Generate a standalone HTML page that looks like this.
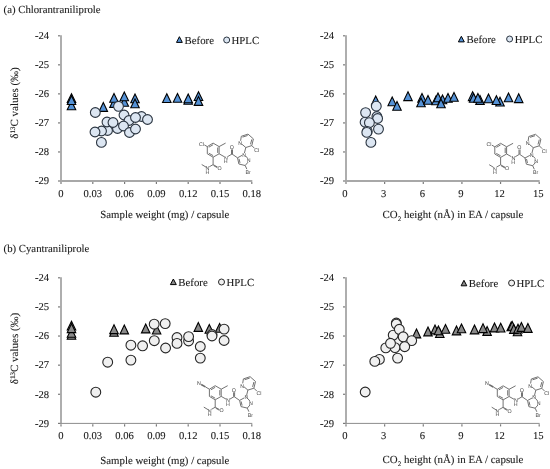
<!DOCTYPE html>
<html><head><meta charset="utf-8"><style>
html,body{margin:0;padding:0;background:#fff;}
svg{display:block;}
text{font-family:"Liberation Serif",serif;fill:#1a1a1a;stroke:#1a1a1a;stroke-width:0.1px;}
text.m{font-family:"Liberation Sans",sans-serif;fill:#444;stroke:#fff;stroke-width:0.6px;paint-order:stroke;}
svg{will-change:transform;}
text{text-rendering:geometricPrecision;}
</style></head><body>
<svg width="550" height="469" viewBox="0 0 550 469">
<rect width="550" height="469" fill="#fff"/>
<text x="3.6" y="13.2" text-anchor="start" font-size="10.75" >(a) Chlorantraniliprole</text>
<text x="3.6" y="252" text-anchor="start" font-size="10.75" >(b) Cyantraniliprole</text>
<path d="M61.0 35.3V181" fill="none" stroke="#aaaaaa" stroke-width="1.9"/>
<path d="M60.0 181H252.3" fill="none" stroke="#a8a8a8" stroke-width="1.8"/>
<path d="M58.0 35.80H60.1" stroke="#7a7a7a" stroke-width="1.2"/>
<text x="49.0" y="39.10" text-anchor="end" font-size="10.6" >-24</text>
<path d="M58.0 64.84H60.1" stroke="#7a7a7a" stroke-width="1.2"/>
<text x="49.0" y="68.14" text-anchor="end" font-size="10.6" >-25</text>
<path d="M58.0 93.88H60.1" stroke="#7a7a7a" stroke-width="1.2"/>
<text x="49.0" y="97.18" text-anchor="end" font-size="10.6" >-26</text>
<path d="M58.0 122.92H60.1" stroke="#7a7a7a" stroke-width="1.2"/>
<text x="49.0" y="126.22" text-anchor="end" font-size="10.6" >-27</text>
<path d="M58.0 151.96H60.1" stroke="#7a7a7a" stroke-width="1.2"/>
<text x="49.0" y="155.26" text-anchor="end" font-size="10.6" >-28</text>
<path d="M58.0 181.00H60.1" stroke="#7a7a7a" stroke-width="1.2"/>
<text x="49.0" y="184.30" text-anchor="end" font-size="10.6" >-29</text>
<path d="M61.00 181.9V184" stroke="#7a7a7a" stroke-width="1.2"/>
<text x="61.00" y="196.50" text-anchor="middle" font-size="10.6" >0</text>
<path d="M92.80 181.9V184" stroke="#7a7a7a" stroke-width="1.2"/>
<text x="92.80" y="196.50" text-anchor="middle" font-size="10.6" >0.03</text>
<path d="M124.60 181.9V184" stroke="#7a7a7a" stroke-width="1.2"/>
<text x="124.60" y="196.50" text-anchor="middle" font-size="10.6" >0.06</text>
<path d="M156.40 181.9V184" stroke="#7a7a7a" stroke-width="1.2"/>
<text x="156.40" y="196.50" text-anchor="middle" font-size="10.6" >0.09</text>
<path d="M188.20 181.9V184" stroke="#7a7a7a" stroke-width="1.2"/>
<text x="188.20" y="196.50" text-anchor="middle" font-size="10.6" >0.12</text>
<path d="M220.00 181.9V184" stroke="#7a7a7a" stroke-width="1.2"/>
<text x="220.00" y="196.50" text-anchor="middle" font-size="10.6" >0.15</text>
<path d="M251.80 181.9V184" stroke="#7a7a7a" stroke-width="1.2"/>
<text x="251.80" y="196.50" text-anchor="middle" font-size="10.6" >0.18</text>
<path d="M346.0 35.3V181" fill="none" stroke="#aaaaaa" stroke-width="1.9"/>
<path d="M345.0 181H539.7" fill="none" stroke="#a8a8a8" stroke-width="1.8"/>
<path d="M343.0 35.80H345.1" stroke="#7a7a7a" stroke-width="1.2"/>
<text x="334.0" y="39.10" text-anchor="end" font-size="10.6" >-24</text>
<path d="M343.0 64.84H345.1" stroke="#7a7a7a" stroke-width="1.2"/>
<text x="334.0" y="68.14" text-anchor="end" font-size="10.6" >-25</text>
<path d="M343.0 93.88H345.1" stroke="#7a7a7a" stroke-width="1.2"/>
<text x="334.0" y="97.18" text-anchor="end" font-size="10.6" >-26</text>
<path d="M343.0 122.92H345.1" stroke="#7a7a7a" stroke-width="1.2"/>
<text x="334.0" y="126.22" text-anchor="end" font-size="10.6" >-27</text>
<path d="M343.0 151.96H345.1" stroke="#7a7a7a" stroke-width="1.2"/>
<text x="334.0" y="155.26" text-anchor="end" font-size="10.6" >-28</text>
<path d="M343.0 181.00H345.1" stroke="#7a7a7a" stroke-width="1.2"/>
<text x="334.0" y="184.30" text-anchor="end" font-size="10.6" >-29</text>
<path d="M346.00 181.9V184" stroke="#7a7a7a" stroke-width="1.2"/>
<text x="345.00" y="196.50" text-anchor="middle" font-size="10.6" >0</text>
<path d="M384.64 181.9V184" stroke="#7a7a7a" stroke-width="1.2"/>
<text x="383.64" y="196.50" text-anchor="middle" font-size="10.6" >3</text>
<path d="M423.28 181.9V184" stroke="#7a7a7a" stroke-width="1.2"/>
<text x="422.28" y="196.50" text-anchor="middle" font-size="10.6" >6</text>
<path d="M461.92 181.9V184" stroke="#7a7a7a" stroke-width="1.2"/>
<text x="460.92" y="196.50" text-anchor="middle" font-size="10.6" >9</text>
<path d="M500.56 181.9V184" stroke="#7a7a7a" stroke-width="1.2"/>
<text x="499.56" y="196.50" text-anchor="middle" font-size="10.6" >12</text>
<path d="M539.20 181.9V184" stroke="#7a7a7a" stroke-width="1.2"/>
<text x="538.20" y="196.50" text-anchor="middle" font-size="10.6" >15</text>
<path d="M61.0 277.3V423.4" fill="none" stroke="#aaaaaa" stroke-width="1.9"/>
<path d="M60.0 423.4H252.3" fill="none" stroke="#8c8c8c" stroke-width="1.0"/>
<path d="M58.0 277.80H60.1" stroke="#7a7a7a" stroke-width="1.2"/>
<text x="49.0" y="281.10" text-anchor="end" font-size="10.6" >-24</text>
<path d="M58.0 306.92H60.1" stroke="#7a7a7a" stroke-width="1.2"/>
<text x="49.0" y="310.22" text-anchor="end" font-size="10.6" >-25</text>
<path d="M58.0 336.04H60.1" stroke="#7a7a7a" stroke-width="1.2"/>
<text x="49.0" y="339.34" text-anchor="end" font-size="10.6" >-26</text>
<path d="M58.0 365.16H60.1" stroke="#7a7a7a" stroke-width="1.2"/>
<text x="49.0" y="368.46" text-anchor="end" font-size="10.6" >-27</text>
<path d="M58.0 394.28H60.1" stroke="#7a7a7a" stroke-width="1.2"/>
<text x="49.0" y="397.58" text-anchor="end" font-size="10.6" >-28</text>
<path d="M58.0 423.40H60.1" stroke="#7a7a7a" stroke-width="1.2"/>
<text x="49.0" y="426.70" text-anchor="end" font-size="10.6" >-29</text>
<path d="M61.00 424.29999999999995V426.4" stroke="#7a7a7a" stroke-width="1.2"/>
<text x="61.00" y="438.90" text-anchor="middle" font-size="10.6" >0</text>
<path d="M92.80 424.29999999999995V426.4" stroke="#7a7a7a" stroke-width="1.2"/>
<text x="92.80" y="438.90" text-anchor="middle" font-size="10.6" >0.03</text>
<path d="M124.60 424.29999999999995V426.4" stroke="#7a7a7a" stroke-width="1.2"/>
<text x="124.60" y="438.90" text-anchor="middle" font-size="10.6" >0.06</text>
<path d="M156.40 424.29999999999995V426.4" stroke="#7a7a7a" stroke-width="1.2"/>
<text x="156.40" y="438.90" text-anchor="middle" font-size="10.6" >0.09</text>
<path d="M188.20 424.29999999999995V426.4" stroke="#7a7a7a" stroke-width="1.2"/>
<text x="188.20" y="438.90" text-anchor="middle" font-size="10.6" >0.12</text>
<path d="M220.00 424.29999999999995V426.4" stroke="#7a7a7a" stroke-width="1.2"/>
<text x="220.00" y="438.90" text-anchor="middle" font-size="10.6" >0.15</text>
<path d="M251.80 424.29999999999995V426.4" stroke="#7a7a7a" stroke-width="1.2"/>
<text x="251.80" y="438.90" text-anchor="middle" font-size="10.6" >0.18</text>
<path d="M346.0 277.3V423.4" fill="none" stroke="#aaaaaa" stroke-width="1.9"/>
<path d="M345.0 423.4H539.7" fill="none" stroke="#8c8c8c" stroke-width="1.0"/>
<path d="M343.0 277.80H345.1" stroke="#7a7a7a" stroke-width="1.2"/>
<text x="334.0" y="281.10" text-anchor="end" font-size="10.6" >-24</text>
<path d="M343.0 306.92H345.1" stroke="#7a7a7a" stroke-width="1.2"/>
<text x="334.0" y="310.22" text-anchor="end" font-size="10.6" >-25</text>
<path d="M343.0 336.04H345.1" stroke="#7a7a7a" stroke-width="1.2"/>
<text x="334.0" y="339.34" text-anchor="end" font-size="10.6" >-26</text>
<path d="M343.0 365.16H345.1" stroke="#7a7a7a" stroke-width="1.2"/>
<text x="334.0" y="368.46" text-anchor="end" font-size="10.6" >-27</text>
<path d="M343.0 394.28H345.1" stroke="#7a7a7a" stroke-width="1.2"/>
<text x="334.0" y="397.58" text-anchor="end" font-size="10.6" >-28</text>
<path d="M343.0 423.40H345.1" stroke="#7a7a7a" stroke-width="1.2"/>
<text x="334.0" y="426.70" text-anchor="end" font-size="10.6" >-29</text>
<path d="M346.00 424.29999999999995V426.4" stroke="#7a7a7a" stroke-width="1.2"/>
<text x="345.00" y="438.90" text-anchor="middle" font-size="10.6" >0</text>
<path d="M384.64 424.29999999999995V426.4" stroke="#7a7a7a" stroke-width="1.2"/>
<text x="383.64" y="438.90" text-anchor="middle" font-size="10.6" >3</text>
<path d="M423.28 424.29999999999995V426.4" stroke="#7a7a7a" stroke-width="1.2"/>
<text x="422.28" y="438.90" text-anchor="middle" font-size="10.6" >6</text>
<path d="M461.92 424.29999999999995V426.4" stroke="#7a7a7a" stroke-width="1.2"/>
<text x="460.92" y="438.90" text-anchor="middle" font-size="10.6" >9</text>
<path d="M500.56 424.29999999999995V426.4" stroke="#7a7a7a" stroke-width="1.2"/>
<text x="499.56" y="438.90" text-anchor="middle" font-size="10.6" >12</text>
<path d="M539.20 424.29999999999995V426.4" stroke="#7a7a7a" stroke-width="1.2"/>
<text x="538.20" y="438.90" text-anchor="middle" font-size="10.6" >15</text>
<text x="100.3" y="218" text-anchor="start" font-size="10.8" >Sample weight (mg) / capsule</text>
<text x="100.3" y="463.5" text-anchor="start" font-size="10.8" >Sample weight (mg) / capsule</text>
<text x="382.6" y="218" text-anchor="start" font-size="10.9" >CO<tspan font-size="7" dy="2.5">2</tspan><tspan dy="-2.5"> height (nÅ) in EA / capsule</tspan></text>
<text x="382.6" y="463.4" text-anchor="start" font-size="10.9" >CO<tspan font-size="7" dy="2.5">2</tspan><tspan dy="-2.5"> height (nÅ) in EA / capsule</tspan></text>
<text x="0" y="0" text-anchor="middle" font-size="11" transform="translate(18.2 103) rotate(-90)">δ<tspan font-size="7" dy="-3.5">13</tspan><tspan dy="3.5">C values (‰)</tspan></text>
<text x="0" y="0" text-anchor="middle" font-size="11" transform="translate(18.2 348.5) rotate(-90)">δ<tspan font-size="7" dy="-3.5">13</tspan><tspan dy="3.5">C values (‰)</tspan></text>
<path d="M179.40 36.70L182.30 42.40H176.50Z" fill="#5592d6" stroke="#000" stroke-width="1"/>
<text x="184.6" y="43.9" text-anchor="start" font-size="10.8" >Before</text>
<circle cx="226.70" cy="40.00" r="3" fill="#dce6f2" stroke="#2a3440" stroke-width="1"/>
<text x="231.5" y="43.9" text-anchor="start" font-size="10.8" >HPLC</text>
<path d="M461.35 36.30L464.30 41.90H458.40Z" fill="#5592d6" stroke="#000" stroke-width="1"/>
<text x="466.5" y="43.3" text-anchor="start" font-size="10.8" >Before</text>
<circle cx="509.60" cy="39.00" r="3" fill="#dce6f2" stroke="#2a3440" stroke-width="1"/>
<text x="514.8000000000001" y="43.3" text-anchor="start" font-size="10.8" >HPLC</text>
<path d="M173.35 279.00L176.30 284.60H170.40Z" fill="#8a8a8a" stroke="#000" stroke-width="1"/>
<text x="178.3" y="286.0" text-anchor="start" font-size="10.8" >Before</text>
<circle cx="221.50" cy="282.00" r="3" fill="#f0f0f0" stroke="#262626" stroke-width="1"/>
<text x="226.5" y="286.0" text-anchor="start" font-size="10.8" >HPLC</text>
<path d="M463.95 280.30L466.80 285.80H461.10Z" fill="#8a8a8a" stroke="#000" stroke-width="1"/>
<text x="468.8" y="287.0" text-anchor="start" font-size="10.8" >Before</text>
<circle cx="511.60" cy="283.00" r="3" fill="#f0f0f0" stroke="#262626" stroke-width="1"/>
<text x="516.5" y="287.0" text-anchor="start" font-size="10.8" >HPLC</text>
<path d="M71.50 100.90L75.75 109.70H67.25Z" fill="#5592d6" stroke="#000" stroke-width="1.1"/>
<path d="M71.50 93.65L75.75 102.45H67.25Z" fill="#5592d6" stroke="#000" stroke-width="1.1"/>
<path d="M71.50 95.70L75.75 104.50H67.25Z" fill="#5592d6" stroke="#000" stroke-width="1.1"/>
<path d="M103.30 102.60L107.55 111.40H99.05Z" fill="#5592d6" stroke="#000" stroke-width="1.1"/>
<path d="M114.00 98.60L118.25 107.40H109.75Z" fill="#5592d6" stroke="#000" stroke-width="1.1"/>
<path d="M114.00 93.40L118.25 102.20H109.75Z" fill="#5592d6" stroke="#000" stroke-width="1.1"/>
<path d="M124.30 97.40L128.55 106.20H120.05Z" fill="#5592d6" stroke="#000" stroke-width="1.1"/>
<path d="M124.30 91.90L128.55 100.70H120.05Z" fill="#5592d6" stroke="#000" stroke-width="1.1"/>
<path d="M135.00 94.00L139.25 102.80H130.75Z" fill="#5592d6" stroke="#000" stroke-width="1.1"/>
<path d="M135.00 98.90L139.25 107.70H130.75Z" fill="#5592d6" stroke="#000" stroke-width="1.1"/>
<path d="M166.80 93.70L171.05 102.50H162.55Z" fill="#5592d6" stroke="#000" stroke-width="1.1"/>
<path d="M177.50 93.40L181.75 102.20H173.25Z" fill="#5592d6" stroke="#000" stroke-width="1.1"/>
<path d="M188.20 95.40L192.45 104.20H183.95Z" fill="#5592d6" stroke="#000" stroke-width="1.1"/>
<path d="M188.20 94.00L192.45 102.80H183.95Z" fill="#5592d6" stroke="#000" stroke-width="1.1"/>
<path d="M198.50 91.70L202.75 100.50H194.25Z" fill="#5592d6" stroke="#000" stroke-width="1.1"/>
<path d="M198.50 96.60L202.75 105.40H194.25Z" fill="#5592d6" stroke="#000" stroke-width="1.1"/>
<circle cx="107.50" cy="130.50" r="4.9" fill="#dce6f2" stroke="#2a3440" stroke-width="1.1"/>
<circle cx="117.50" cy="128.50" r="4.9" fill="#dce6f2" stroke="#2a3440" stroke-width="1.1"/>
<circle cx="101.50" cy="131.00" r="4.9" fill="#dce6f2" stroke="#2a3440" stroke-width="1.1"/>
<circle cx="95.00" cy="132.00" r="4.9" fill="#dce6f2" stroke="#2a3440" stroke-width="1.1"/>
<circle cx="101.40" cy="142.40" r="4.9" fill="#dce6f2" stroke="#2a3440" stroke-width="1.1"/>
<circle cx="95.30" cy="112.50" r="4.9" fill="#dce6f2" stroke="#2a3440" stroke-width="1.1"/>
<circle cx="107.00" cy="122.00" r="4.9" fill="#dce6f2" stroke="#2a3440" stroke-width="1.1"/>
<circle cx="113.00" cy="122.50" r="4.9" fill="#dce6f2" stroke="#2a3440" stroke-width="1.1"/>
<circle cx="118.50" cy="106.30" r="4.9" fill="#dce6f2" stroke="#2a3440" stroke-width="1.1"/>
<circle cx="124.00" cy="115.00" r="4.9" fill="#dce6f2" stroke="#2a3440" stroke-width="1.1"/>
<circle cx="129.00" cy="120.50" r="4.9" fill="#dce6f2" stroke="#2a3440" stroke-width="1.1"/>
<circle cx="123.50" cy="126.00" r="4.9" fill="#dce6f2" stroke="#2a3440" stroke-width="1.1"/>
<circle cx="141.50" cy="116.50" r="4.9" fill="#dce6f2" stroke="#2a3440" stroke-width="1.1"/>
<circle cx="135.50" cy="117.50" r="4.9" fill="#dce6f2" stroke="#2a3440" stroke-width="1.1"/>
<circle cx="147.50" cy="119.50" r="4.9" fill="#dce6f2" stroke="#2a3440" stroke-width="1.1"/>
<circle cx="129.50" cy="132.50" r="4.9" fill="#dce6f2" stroke="#2a3440" stroke-width="1.1"/>
<circle cx="135.50" cy="129.00" r="4.9" fill="#dce6f2" stroke="#2a3440" stroke-width="1.1"/>
<path d="M375.70 95.90L379.95 104.70H371.45Z" fill="#5592d6" stroke="#000" stroke-width="1.1"/>
<path d="M392.20 96.90L396.45 105.70H387.95Z" fill="#5592d6" stroke="#000" stroke-width="1.1"/>
<path d="M397.00 101.40L401.25 110.20H392.75Z" fill="#5592d6" stroke="#000" stroke-width="1.1"/>
<path d="M408.00 91.80L412.25 100.60H403.75Z" fill="#5592d6" stroke="#000" stroke-width="1.1"/>
<path d="M422.00 93.40L426.25 102.20H417.75Z" fill="#5592d6" stroke="#000" stroke-width="1.1"/>
<path d="M421.00 97.90L425.25 106.70H416.75Z" fill="#5592d6" stroke="#000" stroke-width="1.1"/>
<path d="M428.00 95.40L432.25 104.20H423.75Z" fill="#5592d6" stroke="#000" stroke-width="1.1"/>
<path d="M436.00 95.90L440.25 104.70H431.75Z" fill="#5592d6" stroke="#000" stroke-width="1.1"/>
<path d="M438.00 92.90L442.25 101.70H433.75Z" fill="#5592d6" stroke="#000" stroke-width="1.1"/>
<path d="M442.50 94.90L446.75 103.70H438.25Z" fill="#5592d6" stroke="#000" stroke-width="1.1"/>
<path d="M441.00 98.90L445.25 107.70H436.75Z" fill="#5592d6" stroke="#000" stroke-width="1.1"/>
<path d="M448.00 93.40L452.25 102.20H443.75Z" fill="#5592d6" stroke="#000" stroke-width="1.1"/>
<path d="M454.00 92.40L458.25 101.20H449.75Z" fill="#5592d6" stroke="#000" stroke-width="1.1"/>
<path d="M472.60 91.80L476.85 100.60H468.35Z" fill="#5592d6" stroke="#000" stroke-width="1.1"/>
<path d="M473.60 93.40L477.85 102.20H469.35Z" fill="#5592d6" stroke="#000" stroke-width="1.1"/>
<path d="M480.00 95.60L484.25 104.40H475.75Z" fill="#5592d6" stroke="#000" stroke-width="1.1"/>
<path d="M477.90 93.40L482.15 102.20H473.65Z" fill="#5592d6" stroke="#000" stroke-width="1.1"/>
<path d="M488.50 93.90L492.75 102.70H484.25Z" fill="#5592d6" stroke="#000" stroke-width="1.1"/>
<path d="M500.00 97.20L504.25 106.00H495.75Z" fill="#5592d6" stroke="#000" stroke-width="1.1"/>
<path d="M496.40 95.70L500.65 104.50H492.15Z" fill="#5592d6" stroke="#000" stroke-width="1.1"/>
<path d="M508.50 93.00L512.75 101.80H504.25Z" fill="#5592d6" stroke="#000" stroke-width="1.1"/>
<path d="M518.70 93.80L522.95 102.60H514.45Z" fill="#5592d6" stroke="#000" stroke-width="1.1"/>
<circle cx="376.30" cy="106.20" r="4.9" fill="#dce6f2" stroke="#2a3440" stroke-width="1.1"/>
<circle cx="365.60" cy="112.60" r="4.9" fill="#dce6f2" stroke="#2a3440" stroke-width="1.1"/>
<circle cx="376.90" cy="116.50" r="4.9" fill="#dce6f2" stroke="#2a3440" stroke-width="1.1"/>
<circle cx="377.60" cy="118.50" r="4.9" fill="#dce6f2" stroke="#2a3440" stroke-width="1.1"/>
<circle cx="365.10" cy="122.20" r="4.9" fill="#dce6f2" stroke="#2a3440" stroke-width="1.1"/>
<circle cx="369.40" cy="122.70" r="4.9" fill="#dce6f2" stroke="#2a3440" stroke-width="1.1"/>
<circle cx="378.50" cy="129.10" r="4.9" fill="#dce6f2" stroke="#2a3440" stroke-width="1.1"/>
<circle cx="367.30" cy="131.40" r="4.9" fill="#dce6f2" stroke="#2a3440" stroke-width="1.1"/>
<circle cx="366.80" cy="132.40" r="4.9" fill="#dce6f2" stroke="#2a3440" stroke-width="1.1"/>
<circle cx="370.90" cy="142.40" r="4.9" fill="#dce6f2" stroke="#2a3440" stroke-width="1.1"/>
<path d="M71.50 330.50L75.75 339.30H67.25Z" fill="#8a8a8a" stroke="#000" stroke-width="1.1"/>
<path d="M71.50 328.50L75.75 337.30H67.25Z" fill="#8a8a8a" stroke="#000" stroke-width="1.1"/>
<path d="M71.50 321.20L75.75 330.00H67.25Z" fill="#8a8a8a" stroke="#000" stroke-width="1.1"/>
<path d="M71.50 323.80L75.75 332.60H67.25Z" fill="#8a8a8a" stroke="#000" stroke-width="1.1"/>
<path d="M114.00 327.40L118.25 336.20H109.75Z" fill="#8a8a8a" stroke="#000" stroke-width="1.1"/>
<path d="M114.00 324.80L118.25 333.60H109.75Z" fill="#8a8a8a" stroke="#000" stroke-width="1.1"/>
<path d="M124.30 325.10L128.55 333.90H120.05Z" fill="#8a8a8a" stroke="#000" stroke-width="1.1"/>
<path d="M145.70 324.10L149.95 332.90H141.45Z" fill="#8a8a8a" stroke="#000" stroke-width="1.1"/>
<path d="M156.60 325.20L160.85 334.00H152.35Z" fill="#8a8a8a" stroke="#000" stroke-width="1.1"/>
<path d="M198.30 322.60L202.55 331.40H194.05Z" fill="#8a8a8a" stroke="#000" stroke-width="1.1"/>
<path d="M209.30 324.40L213.55 333.20H205.05Z" fill="#8a8a8a" stroke="#000" stroke-width="1.1"/>
<path d="M219.60 323.40L223.85 332.20H215.35Z" fill="#8a8a8a" stroke="#000" stroke-width="1.1"/>
<circle cx="95.80" cy="392.20" r="4.9" fill="#f0f0f0" stroke="#262626" stroke-width="1.1"/>
<circle cx="107.70" cy="362.20" r="4.9" fill="#f0f0f0" stroke="#262626" stroke-width="1.1"/>
<circle cx="130.90" cy="345.20" r="4.9" fill="#f0f0f0" stroke="#262626" stroke-width="1.1"/>
<circle cx="142.60" cy="345.80" r="4.9" fill="#f0f0f0" stroke="#262626" stroke-width="1.1"/>
<circle cx="130.90" cy="360.10" r="4.9" fill="#f0f0f0" stroke="#262626" stroke-width="1.1"/>
<circle cx="154.20" cy="324.20" r="4.9" fill="#f0f0f0" stroke="#262626" stroke-width="1.1"/>
<circle cx="165.20" cy="323.60" r="4.9" fill="#f0f0f0" stroke="#262626" stroke-width="1.1"/>
<circle cx="154.30" cy="340.70" r="4.9" fill="#f0f0f0" stroke="#262626" stroke-width="1.1"/>
<circle cx="165.60" cy="348.00" r="4.9" fill="#f0f0f0" stroke="#262626" stroke-width="1.1"/>
<circle cx="177.00" cy="337.50" r="4.9" fill="#f0f0f0" stroke="#262626" stroke-width="1.1"/>
<circle cx="177.00" cy="343.40" r="4.9" fill="#f0f0f0" stroke="#262626" stroke-width="1.1"/>
<circle cx="188.60" cy="341.00" r="4.9" fill="#f0f0f0" stroke="#262626" stroke-width="1.1"/>
<circle cx="188.60" cy="336.60" r="4.9" fill="#f0f0f0" stroke="#262626" stroke-width="1.1"/>
<circle cx="200.30" cy="346.50" r="4.9" fill="#f0f0f0" stroke="#262626" stroke-width="1.1"/>
<circle cx="200.30" cy="358.10" r="4.9" fill="#f0f0f0" stroke="#262626" stroke-width="1.1"/>
<circle cx="212.00" cy="334.50" r="4.9" fill="#f0f0f0" stroke="#262626" stroke-width="1.1"/>
<circle cx="212.00" cy="336.00" r="4.9" fill="#f0f0f0" stroke="#262626" stroke-width="1.1"/>
<circle cx="224.10" cy="329.10" r="4.9" fill="#f0f0f0" stroke="#262626" stroke-width="1.1"/>
<circle cx="224.10" cy="340.50" r="4.9" fill="#f0f0f0" stroke="#262626" stroke-width="1.1"/>
<path d="M416.50 329.10L420.75 337.90H412.25Z" fill="#8a8a8a" stroke="#000" stroke-width="1.1"/>
<path d="M428.00 327.10L432.25 335.90H423.75Z" fill="#8a8a8a" stroke="#000" stroke-width="1.1"/>
<path d="M439.80 328.70L444.05 337.50H435.55Z" fill="#8a8a8a" stroke="#000" stroke-width="1.1"/>
<path d="M435.00 325.10L439.25 333.90H430.75Z" fill="#8a8a8a" stroke="#000" stroke-width="1.1"/>
<path d="M438.40 325.90L442.65 334.70H434.15Z" fill="#8a8a8a" stroke="#000" stroke-width="1.1"/>
<path d="M445.50 324.40L449.75 333.20H441.25Z" fill="#8a8a8a" stroke="#000" stroke-width="1.1"/>
<path d="M456.50 326.10L460.75 334.90H452.25Z" fill="#8a8a8a" stroke="#000" stroke-width="1.1"/>
<path d="M461.50 323.90L465.75 332.70H457.25Z" fill="#8a8a8a" stroke="#000" stroke-width="1.1"/>
<path d="M474.50 325.10L478.75 333.90H470.25Z" fill="#8a8a8a" stroke="#000" stroke-width="1.1"/>
<path d="M487.10 326.60L491.35 335.40H482.85Z" fill="#8a8a8a" stroke="#000" stroke-width="1.1"/>
<path d="M483.00 323.80L487.25 332.60H478.75Z" fill="#8a8a8a" stroke="#000" stroke-width="1.1"/>
<path d="M494.50 323.10L498.75 331.90H490.25Z" fill="#8a8a8a" stroke="#000" stroke-width="1.1"/>
<path d="M500.70 323.20L504.95 332.00H496.45Z" fill="#8a8a8a" stroke="#000" stroke-width="1.1"/>
<path d="M517.50 327.00L521.75 335.80H513.25Z" fill="#8a8a8a" stroke="#000" stroke-width="1.1"/>
<path d="M511.20 322.00L515.45 330.80H506.95Z" fill="#8a8a8a" stroke="#000" stroke-width="1.1"/>
<path d="M512.20 321.40L516.45 330.20H507.95Z" fill="#8a8a8a" stroke="#000" stroke-width="1.1"/>
<path d="M513.80 324.60L518.05 333.40H509.55Z" fill="#8a8a8a" stroke="#000" stroke-width="1.1"/>
<path d="M518.00 324.20L522.25 333.00H513.75Z" fill="#8a8a8a" stroke="#000" stroke-width="1.1"/>
<path d="M521.40 322.60L525.65 331.40H517.15Z" fill="#8a8a8a" stroke="#000" stroke-width="1.1"/>
<path d="M527.90 323.60L532.15 332.40H523.65Z" fill="#8a8a8a" stroke="#000" stroke-width="1.1"/>
<circle cx="365.20" cy="392.00" r="4.9" fill="#f0f0f0" stroke="#262626" stroke-width="1.1"/>
<circle cx="397.60" cy="358.10" r="4.9" fill="#f0f0f0" stroke="#262626" stroke-width="1.1"/>
<circle cx="379.40" cy="359.40" r="4.9" fill="#f0f0f0" stroke="#262626" stroke-width="1.1"/>
<circle cx="374.80" cy="361.40" r="4.9" fill="#f0f0f0" stroke="#262626" stroke-width="1.1"/>
<circle cx="397.60" cy="341.60" r="4.9" fill="#f0f0f0" stroke="#262626" stroke-width="1.1"/>
<circle cx="395.00" cy="347.60" r="4.9" fill="#f0f0f0" stroke="#262626" stroke-width="1.1"/>
<circle cx="385.80" cy="347.90" r="4.9" fill="#f0f0f0" stroke="#262626" stroke-width="1.1"/>
<circle cx="393.20" cy="335.10" r="4.9" fill="#f0f0f0" stroke="#262626" stroke-width="1.1"/>
<circle cx="396.30" cy="323.00" r="4.9" fill="#f0f0f0" stroke="#262626" stroke-width="1.1"/>
<circle cx="396.30" cy="324.10" r="4.9" fill="#f0f0f0" stroke="#262626" stroke-width="1.1"/>
<circle cx="399.30" cy="329.30" r="4.9" fill="#f0f0f0" stroke="#262626" stroke-width="1.1"/>
<circle cx="403.20" cy="336.80" r="4.9" fill="#f0f0f0" stroke="#262626" stroke-width="1.1"/>
<circle cx="411.70" cy="340.60" r="4.9" fill="#f0f0f0" stroke="#262626" stroke-width="1.1"/>
<circle cx="390.50" cy="343.30" r="4.9" fill="#f0f0f0" stroke="#262626" stroke-width="1.1"/>
<circle cx="404.70" cy="346.70" r="4.9" fill="#f0f0f0" stroke="#262626" stroke-width="1.1"/>
<path d="M213.1 143.1L219.1 146.6L219.1 153.8L213.1 157.2L207.3 153.8L207.3 146.6L213.1 143.1" fill="none" stroke="#6a6a6a" stroke-width="0.95"/>
<path d="M213.1 144.7L208.8 147.2" fill="none" stroke="#6a6a6a" stroke-width="0.95"/>
<path d="M217.7 147.5L217.7 152.9" fill="none" stroke="#6a6a6a" stroke-width="0.95"/>
<path d="M208.8 153.2L213.1 155.6" fill="none" stroke="#6a6a6a" stroke-width="0.95"/>
<path d="M207.3 146.6L204.3 144.9" fill="none" stroke="#6a6a6a" stroke-width="0.95"/>
<text class="m" x="201.4" y="145.7" font-size="5.3" text-anchor="middle">Cl</text>
<path d="M219.1 146.6L225.6 143.1" fill="none" stroke="#6a6a6a" stroke-width="0.95"/>
<path d="M219.1 153.8L224.1 156.6" fill="none" stroke="#6a6a6a" stroke-width="0.95"/>
<text class="m" x="225.9" y="159.7" font-size="5.3" text-anchor="middle">N</text>
<text class="m" x="225.7" y="163.3" font-size="5.3" text-anchor="middle">H</text>
<path d="M227.7 156.6L232.0 154.0" fill="none" stroke="#6a6a6a" stroke-width="0.95"/>
<path d="M231.5 154.0L231.5 149.2" fill="none" stroke="#6a6a6a" stroke-width="0.95"/>
<path d="M232.5 154.0L232.5 149.2" fill="none" stroke="#6a6a6a" stroke-width="0.95"/>
<text class="m" x="231.8" y="149.2" font-size="5.3" text-anchor="middle">O</text>
<path d="M232.0 154.0L237.5 157.8" fill="none" stroke="#6a6a6a" stroke-width="0.95"/>
<path d="M237.5 157.8L242.5 155.1" fill="none" stroke="#6a6a6a" stroke-width="0.95"/>
<text class="m" x="244.2" y="156.7" font-size="5.3" text-anchor="middle">N</text>
<path d="M245.8 156.1L247.8 158.5" fill="none" stroke="#6a6a6a" stroke-width="0.95"/>
<text class="m" x="248.7" y="162.3" font-size="5.3" text-anchor="middle">N</text>
<path d="M248.1 162.1L245.2 165.5L238.9 164.0L237.5 157.8" fill="none" stroke="#6a6a6a" stroke-width="0.95"/>
<path d="M240.0 162.9L239.0 158.8" fill="none" stroke="#6a6a6a" stroke-width="0.95"/>
<path d="M245.2 165.5L246.8 169.1" fill="none" stroke="#6a6a6a" stroke-width="0.95"/>
<text class="m" x="248.2" y="173.9" font-size="5.3" text-anchor="middle">Br</text>
<path d="M244.4 153.1L245.8 147.5" fill="none" stroke="#6a6a6a" stroke-width="0.95"/>
<path d="M245.8 147.5L251.8 145.6L253.4 138.9L248.0 134.1L241.3 136.3L240.6 140.8" fill="none" stroke="#6a6a6a" stroke-width="0.95"/>
<text class="m" x="240.1" y="145.0" font-size="5.3" text-anchor="middle">N</text>
<path d="M241.8 144.1L245.8 147.5" fill="none" stroke="#6a6a6a" stroke-width="0.95"/>
<path d="M250.5 144.3L251.8 139.4" fill="none" stroke="#6a6a6a" stroke-width="0.95"/>
<path d="M242.5 137.1L247.6 135.5" fill="none" stroke="#6a6a6a" stroke-width="0.95"/>
<path d="M251.8 145.6L254.7 148.5" fill="none" stroke="#6a6a6a" stroke-width="0.95"/>
<text class="m" x="256.8" y="152.3" font-size="5.3" text-anchor="middle">Cl</text>
<path d="M213.1 157.2L213.1 164.6" fill="none" stroke="#6a6a6a" stroke-width="0.95"/>
<path d="M213.1 164.6L217.8 167.2" fill="none" stroke="#6a6a6a" stroke-width="0.95"/>
<path d="M213.6 165.6L217.5 167.8" fill="none" stroke="#6a6a6a" stroke-width="0.95"/>
<text class="m" x="219.5" y="169.8" font-size="5.3" text-anchor="middle">O</text>
<path d="M213.1 164.6L208.9 167.0" fill="none" stroke="#6a6a6a" stroke-width="0.95"/>
<text class="m" x="207.5" y="170.3" font-size="5.3" text-anchor="middle">N</text>
<text class="m" x="207.5" y="173.7" font-size="5.3" text-anchor="middle">H</text>
<path d="M206.0 167.1L201.7 164.5" fill="none" stroke="#6a6a6a" stroke-width="0.95"/>
<path d="M500.6 143.3L506.6 146.8L506.6 154.0L500.6 157.4L494.8 154.0L494.8 146.8L500.6 143.3" fill="none" stroke="#6a6a6a" stroke-width="0.95"/>
<path d="M500.6 144.9L496.3 147.4" fill="none" stroke="#6a6a6a" stroke-width="0.95"/>
<path d="M505.2 147.7L505.2 153.1" fill="none" stroke="#6a6a6a" stroke-width="0.95"/>
<path d="M496.3 153.4L500.6 155.8" fill="none" stroke="#6a6a6a" stroke-width="0.95"/>
<path d="M494.8 146.8L491.8 145.1" fill="none" stroke="#6a6a6a" stroke-width="0.95"/>
<text class="m" x="488.9" y="145.9" font-size="5.3" text-anchor="middle">Cl</text>
<path d="M506.6 146.8L513.1 143.3" fill="none" stroke="#6a6a6a" stroke-width="0.95"/>
<path d="M506.6 154.0L511.6 156.8" fill="none" stroke="#6a6a6a" stroke-width="0.95"/>
<text class="m" x="513.4" y="159.9" font-size="5.3" text-anchor="middle">N</text>
<text class="m" x="513.2" y="163.5" font-size="5.3" text-anchor="middle">H</text>
<path d="M515.2 156.8L519.5 154.2" fill="none" stroke="#6a6a6a" stroke-width="0.95"/>
<path d="M519.0 154.2L519.0 149.4" fill="none" stroke="#6a6a6a" stroke-width="0.95"/>
<path d="M520.0 154.2L520.0 149.4" fill="none" stroke="#6a6a6a" stroke-width="0.95"/>
<text class="m" x="519.3" y="149.4" font-size="5.3" text-anchor="middle">O</text>
<path d="M519.5 154.2L525.0 158.0" fill="none" stroke="#6a6a6a" stroke-width="0.95"/>
<path d="M525.0 158.0L530.0 155.3" fill="none" stroke="#6a6a6a" stroke-width="0.95"/>
<text class="m" x="531.7" y="156.9" font-size="5.3" text-anchor="middle">N</text>
<path d="M533.3 156.3L535.3 158.7" fill="none" stroke="#6a6a6a" stroke-width="0.95"/>
<text class="m" x="536.2" y="162.5" font-size="5.3" text-anchor="middle">N</text>
<path d="M535.6 162.3L532.7 165.7L526.4 164.2L525.0 158.0" fill="none" stroke="#6a6a6a" stroke-width="0.95"/>
<path d="M527.5 163.1L526.5 159.0" fill="none" stroke="#6a6a6a" stroke-width="0.95"/>
<path d="M532.7 165.7L534.3 169.3" fill="none" stroke="#6a6a6a" stroke-width="0.95"/>
<text class="m" x="535.7" y="174.1" font-size="5.3" text-anchor="middle">Br</text>
<path d="M531.9 153.3L533.3 147.7" fill="none" stroke="#6a6a6a" stroke-width="0.95"/>
<path d="M533.3 147.7L539.3 145.8L540.9 139.1L535.5 134.3L528.8 136.5L528.1 141.0" fill="none" stroke="#6a6a6a" stroke-width="0.95"/>
<text class="m" x="527.6" y="145.2" font-size="5.3" text-anchor="middle">N</text>
<path d="M529.3 144.3L533.3 147.7" fill="none" stroke="#6a6a6a" stroke-width="0.95"/>
<path d="M538.0 144.5L539.3 139.6" fill="none" stroke="#6a6a6a" stroke-width="0.95"/>
<path d="M530.0 137.3L535.1 135.7" fill="none" stroke="#6a6a6a" stroke-width="0.95"/>
<path d="M539.3 145.8L542.2 148.7" fill="none" stroke="#6a6a6a" stroke-width="0.95"/>
<text class="m" x="544.3" y="152.5" font-size="5.3" text-anchor="middle">Cl</text>
<path d="M500.6 157.4L500.6 164.8" fill="none" stroke="#6a6a6a" stroke-width="0.95"/>
<path d="M500.6 164.8L505.3 167.4" fill="none" stroke="#6a6a6a" stroke-width="0.95"/>
<path d="M501.1 165.8L505.0 168.0" fill="none" stroke="#6a6a6a" stroke-width="0.95"/>
<text class="m" x="507.0" y="170.0" font-size="5.3" text-anchor="middle">O</text>
<path d="M500.6 164.8L496.4 167.2" fill="none" stroke="#6a6a6a" stroke-width="0.95"/>
<text class="m" x="495.0" y="170.5" font-size="5.3" text-anchor="middle">N</text>
<text class="m" x="495.0" y="173.9" font-size="5.3" text-anchor="middle">H</text>
<path d="M493.5 167.3L489.2 164.7" fill="none" stroke="#6a6a6a" stroke-width="0.95"/>
<path d="M215.2 385.7L221.2 389.2L221.2 396.4L215.2 399.8L209.4 396.4L209.4 389.2L215.2 385.7" fill="none" stroke="#6a6a6a" stroke-width="0.95"/>
<path d="M215.2 387.3L210.9 389.8" fill="none" stroke="#6a6a6a" stroke-width="0.95"/>
<path d="M219.8 390.1L219.8 395.5" fill="none" stroke="#6a6a6a" stroke-width="0.95"/>
<path d="M210.9 395.8L215.2 398.2" fill="none" stroke="#6a6a6a" stroke-width="0.95"/>
<path d="M209.4 389.2L205.4 386.9" fill="none" stroke="#6a6a6a" stroke-width="0.95"/>
<path d="M205.4 386.9L201.2 384.5" fill="none" stroke="#6a6a6a" stroke-width="1.6"/>
<text class="m" x="199.0" y="385.1" font-size="5.3" text-anchor="middle">N</text>
<path d="M221.2 389.2L227.7 385.7" fill="none" stroke="#6a6a6a" stroke-width="0.95"/>
<path d="M221.2 396.4L226.2 399.2" fill="none" stroke="#6a6a6a" stroke-width="0.95"/>
<text class="m" x="228.0" y="402.3" font-size="5.3" text-anchor="middle">N</text>
<text class="m" x="227.8" y="405.9" font-size="5.3" text-anchor="middle">H</text>
<path d="M229.8 399.2L234.1 396.6" fill="none" stroke="#6a6a6a" stroke-width="0.95"/>
<path d="M233.6 396.6L233.6 391.8" fill="none" stroke="#6a6a6a" stroke-width="0.95"/>
<path d="M234.6 396.6L234.6 391.8" fill="none" stroke="#6a6a6a" stroke-width="0.95"/>
<text class="m" x="233.9" y="391.8" font-size="5.3" text-anchor="middle">O</text>
<path d="M234.1 396.6L239.6 400.4" fill="none" stroke="#6a6a6a" stroke-width="0.95"/>
<path d="M239.6 400.4L244.6 397.7" fill="none" stroke="#6a6a6a" stroke-width="0.95"/>
<text class="m" x="246.3" y="399.3" font-size="5.3" text-anchor="middle">N</text>
<path d="M247.9 398.7L249.9 401.1" fill="none" stroke="#6a6a6a" stroke-width="0.95"/>
<text class="m" x="250.8" y="404.9" font-size="5.3" text-anchor="middle">N</text>
<path d="M250.2 404.7L247.3 408.1L241.0 406.6L239.6 400.4" fill="none" stroke="#6a6a6a" stroke-width="0.95"/>
<path d="M242.1 405.5L241.1 401.4" fill="none" stroke="#6a6a6a" stroke-width="0.95"/>
<path d="M247.3 408.1L248.9 411.7" fill="none" stroke="#6a6a6a" stroke-width="0.95"/>
<text class="m" x="250.3" y="416.5" font-size="5.3" text-anchor="middle">Br</text>
<path d="M246.5 395.7L247.9 390.1" fill="none" stroke="#6a6a6a" stroke-width="0.95"/>
<path d="M247.9 390.1L253.9 388.2L255.5 381.5L250.1 376.7L243.4 378.9L242.7 383.4" fill="none" stroke="#6a6a6a" stroke-width="0.95"/>
<text class="m" x="242.2" y="387.6" font-size="5.3" text-anchor="middle">N</text>
<path d="M243.9 386.7L247.9 390.1" fill="none" stroke="#6a6a6a" stroke-width="0.95"/>
<path d="M252.6 386.9L253.9 382.0" fill="none" stroke="#6a6a6a" stroke-width="0.95"/>
<path d="M244.6 379.7L249.7 378.1" fill="none" stroke="#6a6a6a" stroke-width="0.95"/>
<path d="M253.9 388.2L256.8 391.1" fill="none" stroke="#6a6a6a" stroke-width="0.95"/>
<text class="m" x="258.9" y="394.9" font-size="5.3" text-anchor="middle">Cl</text>
<path d="M215.2 399.8L215.2 407.2" fill="none" stroke="#6a6a6a" stroke-width="0.95"/>
<path d="M215.2 407.2L219.9 409.8" fill="none" stroke="#6a6a6a" stroke-width="0.95"/>
<path d="M215.7 408.2L219.6 410.4" fill="none" stroke="#6a6a6a" stroke-width="0.95"/>
<text class="m" x="221.6" y="412.4" font-size="5.3" text-anchor="middle">O</text>
<path d="M215.2 407.2L211.0 409.6" fill="none" stroke="#6a6a6a" stroke-width="0.95"/>
<text class="m" x="209.6" y="412.9" font-size="5.3" text-anchor="middle">N</text>
<text class="m" x="209.6" y="416.3" font-size="5.3" text-anchor="middle">H</text>
<path d="M208.1 409.7L203.8 407.1" fill="none" stroke="#6a6a6a" stroke-width="0.95"/>
<path d="M503.1 385.8L509.1 389.3L509.1 396.5L503.1 399.9L497.3 396.5L497.3 389.3L503.1 385.8" fill="none" stroke="#6a6a6a" stroke-width="0.95"/>
<path d="M503.1 387.4L498.8 389.9" fill="none" stroke="#6a6a6a" stroke-width="0.95"/>
<path d="M507.7 390.2L507.7 395.6" fill="none" stroke="#6a6a6a" stroke-width="0.95"/>
<path d="M498.8 395.9L503.1 398.3" fill="none" stroke="#6a6a6a" stroke-width="0.95"/>
<path d="M497.3 389.3L493.3 387.0" fill="none" stroke="#6a6a6a" stroke-width="0.95"/>
<path d="M493.3 387.0L489.1 384.6" fill="none" stroke="#6a6a6a" stroke-width="1.6"/>
<text class="m" x="486.9" y="385.2" font-size="5.3" text-anchor="middle">N</text>
<path d="M509.1 389.3L515.6 385.8" fill="none" stroke="#6a6a6a" stroke-width="0.95"/>
<path d="M509.1 396.5L514.1 399.3" fill="none" stroke="#6a6a6a" stroke-width="0.95"/>
<text class="m" x="515.9" y="402.4" font-size="5.3" text-anchor="middle">N</text>
<text class="m" x="515.7" y="406.0" font-size="5.3" text-anchor="middle">H</text>
<path d="M517.7 399.3L522.0 396.7" fill="none" stroke="#6a6a6a" stroke-width="0.95"/>
<path d="M521.5 396.7L521.5 391.9" fill="none" stroke="#6a6a6a" stroke-width="0.95"/>
<path d="M522.5 396.7L522.5 391.9" fill="none" stroke="#6a6a6a" stroke-width="0.95"/>
<text class="m" x="521.8" y="391.9" font-size="5.3" text-anchor="middle">O</text>
<path d="M522.0 396.7L527.5 400.5" fill="none" stroke="#6a6a6a" stroke-width="0.95"/>
<path d="M527.5 400.5L532.5 397.8" fill="none" stroke="#6a6a6a" stroke-width="0.95"/>
<text class="m" x="534.2" y="399.4" font-size="5.3" text-anchor="middle">N</text>
<path d="M535.8 398.8L537.8 401.2" fill="none" stroke="#6a6a6a" stroke-width="0.95"/>
<text class="m" x="538.7" y="405.0" font-size="5.3" text-anchor="middle">N</text>
<path d="M538.1 404.8L535.2 408.2L528.9 406.7L527.5 400.5" fill="none" stroke="#6a6a6a" stroke-width="0.95"/>
<path d="M530.0 405.6L529.0 401.5" fill="none" stroke="#6a6a6a" stroke-width="0.95"/>
<path d="M535.2 408.2L536.8 411.8" fill="none" stroke="#6a6a6a" stroke-width="0.95"/>
<text class="m" x="538.2" y="416.6" font-size="5.3" text-anchor="middle">Br</text>
<path d="M534.4 395.8L535.8 390.2" fill="none" stroke="#6a6a6a" stroke-width="0.95"/>
<path d="M535.8 390.2L541.8 388.3L543.4 381.6L538.0 376.8L531.3 379.0L530.6 383.5" fill="none" stroke="#6a6a6a" stroke-width="0.95"/>
<text class="m" x="530.1" y="387.7" font-size="5.3" text-anchor="middle">N</text>
<path d="M531.8 386.8L535.8 390.2" fill="none" stroke="#6a6a6a" stroke-width="0.95"/>
<path d="M540.5 387.0L541.8 382.1" fill="none" stroke="#6a6a6a" stroke-width="0.95"/>
<path d="M532.5 379.8L537.6 378.2" fill="none" stroke="#6a6a6a" stroke-width="0.95"/>
<path d="M541.8 388.3L544.7 391.2" fill="none" stroke="#6a6a6a" stroke-width="0.95"/>
<text class="m" x="546.8" y="395.0" font-size="5.3" text-anchor="middle">Cl</text>
<path d="M503.1 399.9L503.1 407.3" fill="none" stroke="#6a6a6a" stroke-width="0.95"/>
<path d="M503.1 407.3L507.8 409.9" fill="none" stroke="#6a6a6a" stroke-width="0.95"/>
<path d="M503.6 408.3L507.5 410.5" fill="none" stroke="#6a6a6a" stroke-width="0.95"/>
<text class="m" x="509.5" y="412.5" font-size="5.3" text-anchor="middle">O</text>
<path d="M503.1 407.3L498.9 409.7" fill="none" stroke="#6a6a6a" stroke-width="0.95"/>
<text class="m" x="497.5" y="413.0" font-size="5.3" text-anchor="middle">N</text>
<text class="m" x="497.5" y="416.4" font-size="5.3" text-anchor="middle">H</text>
<path d="M496.0 409.8L491.7 407.2" fill="none" stroke="#6a6a6a" stroke-width="0.95"/>
</svg>
</body></html>
